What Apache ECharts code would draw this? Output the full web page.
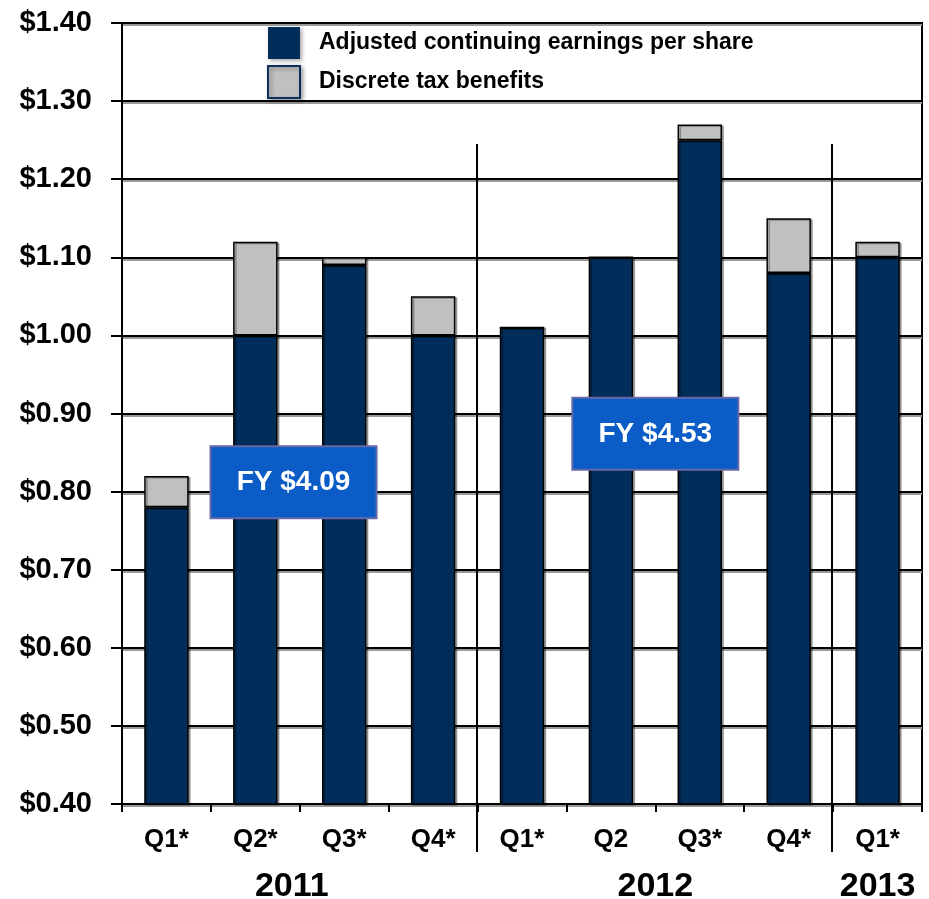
<!DOCTYPE html>
<html>
<head>
<meta charset="utf-8">
<script src="https://cdn.jsdelivr.net/npm/echarts@6/dist/echarts.min.js"></script>
<style>
html, body { margin: 0; padding: 0; background: #fff; }
#main { width: 929px; height: 899px; }
</style>
</head>
<body>
<div id="main"></div>
<script>
var quarters = ['Q1*', 'Q2*', 'Q3*', 'Q4*', 'Q1*', 'Q2', 'Q3*', 'Q4*', 'Q1*'];
var adjusted = [0.78, 1.00, 1.09, 1.00, 1.01, 1.10, 1.25, 1.08, 1.10];
var taxBenefits = [0.04, 0.12, 0.01, 0.05, 0, 0, 0.02, 0.07, 0.02];
var years = ['2011', '2012', '2013'];
var yearFirst = [0, 4, 8];
var yearLast = [3, 7, 8];
var fyLabels = ['FY $4.09', 'FY $4.53'];
var fyCategory = [1.43, 5.5];
var fyValue = [0.812, 0.874];

var font = 'Liberation Sans, Arial, sans-serif';
var navy = '#002d5a';
var grey = '#c0c0c0';

var chart = echarts.init(document.getElementById('main'));

var option = {
    animation: false,
    backgroundColor: '#fff',
    grid: {
        left: 122, right: 7, top: 23, bottom: 95,
        show: true, borderColor: '#000', borderWidth: 2
    },
    legend: {
        orient: 'vertical',
        left: 267, top: 27,
        padding: 0,
        itemWidth: 32, itemHeight: 32, itemGap: 6,
        icon: 'rect',
        textStyle: { fontFamily: font, fontWeight: 'bold', fontSize: 23, color: '#000', padding: [4, 0, 0, 14] },
        data: [{
            name: 'Adjusted continuing earnings per share',
            itemStyle: { color: navy, borderColor: navy, borderWidth: 0, shadowColor: 'rgba(0,0,0,0.35)', shadowBlur: 4, shadowOffsetX: 2, shadowOffsetY: 2 }
        }, {
            name: 'Discrete tax benefits',
            itemStyle: { color: grey, borderColor: '#0d2f5a', borderWidth: 2, shadowColor: 'rgba(0,0,0,0.35)', shadowBlur: 4, shadowOffsetX: 2, shadowOffsetY: 2 }
        }]
    },
    xAxis: {
        type: 'category',
        data: quarters,
        axisLine: { lineStyle: { color: '#000', width: 2 } },
        axisTick: { show: true, length: 8, lineStyle: { color: '#000', width: 2 } },
        axisLabel: { fontFamily: font, fontWeight: 'bold', fontSize: 26, color: '#000', margin: 23 }
    },
    yAxis: {
        type: 'value',
        min: 0.4, max: 1.4, interval: 0.1,
        axisLine: { show: true, lineStyle: { color: '#000', width: 2 } },
        axisTick: { show: true, inside: false, length: 11, lineStyle: { color: '#000', width: 2 } },
        axisLabel: {
            fontFamily: font, fontWeight: 'bold', fontSize: 29, color: '#000', margin: 30,
            formatter: function (v) { return '$' + v.toFixed(2); }
        },
        splitLine: { lineStyle: { color: '#000', width: 2, shadowColor: '#999', shadowOffsetY: 2, shadowBlur: 0 } }
    },
    series: [{
        name: 'Adjusted continuing earnings per share',
        type: 'bar',
        stack: 'eps',
        barWidth: '50%',
        data: adjusted,
        itemStyle: { color: navy, borderColor: '#000', borderWidth: 1.5, shadowColor: 'rgba(0,0,0,0.3)', shadowOffsetX: 2, shadowOffsetY: 1 }
    }, {
        name: 'Discrete tax benefits',
        type: 'bar',
        stack: 'eps',
        barWidth: '50%',
        data: taxBenefits,
        itemStyle: { color: grey, borderColor: '#000', borderWidth: 1.5, shadowColor: 'rgba(0,0,0,0.3)', shadowOffsetX: 2, shadowOffsetY: 1 }
    }]
};

chart.setOption(option);

function catX(i) {
    var lo = Math.floor(i), hi = Math.min(lo + 1, quarters.length - 1);
    var a = chart.convertToPixel({ xAxisIndex: 0 }, lo);
    var b = chart.convertToPixel({ xAxisIndex: 0 }, hi);
    if (hi === lo) return a;
    return a + (b - a) * (i - lo);
}
var step = catX(1) - catX(0);
var axisBottom = chart.convertToPixel({ yAxisIndex: 0 }, 0.4);
var sepTop = chart.convertToPixel({ yAxisIndex: 0 }, 1.245);

var graphics = [];
// year separators
[4, 8].forEach(function (i) {
    var x = Math.round(catX(i) - step / 2) - 1;
    graphics.push({
        type: 'line', z: 10,
        shape: { x1: x, y1: sepTop, x2: x, y2: axisBottom + 48 },
        style: { stroke: '#000', lineWidth: 2 }
    });
});
// year labels
years.forEach(function (y, k) {
    var cx = (catX(yearFirst[k]) + catX(yearLast[k])) / 2;
    if (k === 0) cx -= 8;
    graphics.push({
        type: 'text', z: 10,
        x: cx, y: axisBottom + 83,
        style: { text: y, fontFamily: font, fontWeight: 'bold', fontSize: 34, fill: '#000', align: 'center', verticalAlign: 'middle' }
    });
});
// FY boxes
fyLabels.forEach(function (t, k) {
    var cx = catX(fyCategory[k]);
    var cy = chart.convertToPixel({ yAxisIndex: 0 }, fyValue[k]);
    graphics.push({
        type: 'rect', z: 20,
        shape: { x: cx - 83, y: cy - 36, width: 166, height: 72 },
        style: { fill: '#0b5cc6', stroke: '#6668a8', lineWidth: 2 }
    });
    graphics.push({
        type: 'text', z: 21,
        x: cx, y: cy,
        style: { text: t, fontFamily: font, fontWeight: 'bold', fontSize: 28, fill: '#fff', align: 'center', verticalAlign: 'middle' }
    });
});

chart.setOption({ graphic: graphics });

window.addEventListener('resize', function () {
    chart.resize();
});
</script>
</body>
</html>
